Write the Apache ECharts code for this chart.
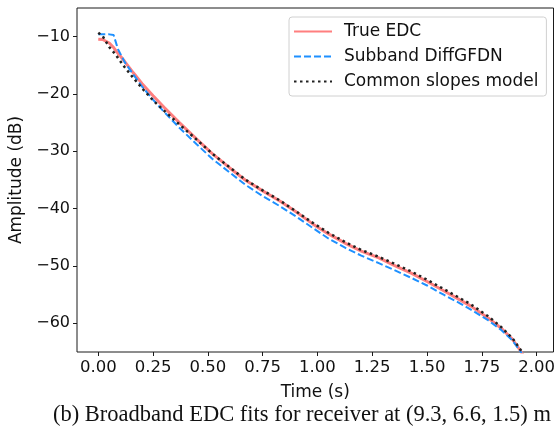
<!DOCTYPE html>
<html>
<head>
<meta charset="utf-8">
<script src="https://cdn.jsdelivr.net/npm/echarts@6/dist/echarts.min.js"></script>
<style>
  html, body { margin: 0; padding: 0; background: #fff; }
  #main { width: 558px; height: 436px; }
</style>
</head>
<body>
<div id="main"></div>
<script>
// time axis (s)
var timeS = [0, 0.02, 0.05, 0.07, 0.09, 0.12, 0.16, 0.2, 0.25, 0.3, 0.37, 0.45, 0.52, 0.6, 0.67, 0.75, 0.83, 0.9, 0.98,
  1.05, 1.13, 1.2, 1.28, 1.35, 1.43, 1.5, 1.58, 1.65, 1.7, 1.78, 1.84, 1.89, 1.93, 1.97]
// amplitudes (dB)
var trueEdc = [-10.45, -10.5, -11.1, -11.9, -12.9, -14.3, -16.3, -18.2, -20.3, -22.3, -25.0, -27.9, -30.4, -32.9, -35.0,
  -36.9, -38.7, -40.5, -42.7, -44.4, -46.1, -47.4, -48.6, -49.9, -51.3, -52.7, -54.4, -55.9, -57.0, -59.1, -60.9, -62.8, -65.0, -68.5]
var subbandGfdn = [-9.6, -9.6, -9.6, -9.7, -12.2, -14.4, -16.6, -18.7, -21.0, -23.1, -25.9, -28.8, -31.3, -33.7, -35.8,
  -37.8, -39.6, -41.3, -43.4, -45.2, -46.9, -48.2, -49.5, -50.7, -52.1, -53.4, -55.1, -56.5, -57.6, -59.5, -61.2, -63.0, -65.1, -68.6]
var commonSlopes = [-9.3, -9.9, -11.8, -12.7, -13.7, -15.3, -17.2, -19.0, -21.1, -22.9, -25.3, -28.0, -30.4, -32.8, -34.9,
  -36.8, -38.6, -40.4, -42.5, -44.2, -45.9, -47.2, -48.4, -49.6, -51.0, -52.4, -54.1, -55.6, -56.7, -58.8, -60.7, -62.6, -64.8, -68.3]
var xTicks = [0, 0.25, 0.5, 0.75, 1.0, 1.25, 1.5, 1.75, 2.0]
var yTicks = [-60, -50, -40, -30, -20, -10]

function pairs (ys) {
  return timeS.map(function (t, i) { return [t, ys[i]] })
}
function minus (v) {
  return String(v).replace('-', '\u2212')
}

var chart = echarts.init(document.getElementById('main'), null, { renderer: 'canvas' })
var font = 'DejaVu Sans'
chart.setOption({
  animation: false,
  textStyle: { fontFamily: font },
  grid: {
    left: 77, top: 8, right: 3, bottom: 84,
    show: true, borderColor: '#1a1a1a', borderWidth: 1
  },
  legend: {
    orient: 'vertical',
    left: 289,
    top: 17,
    padding: [6, 8, 6, 4],
    itemWidth: 38,
    itemHeight: 14,
    itemGap: 8,
    // hide the round marker, keep only the line sample
    itemStyle: { opacity: 0 },
    borderColor: '#d0d0d0',
    borderWidth: 1,
    borderRadius: 3,
    textStyle: { fontSize: 17, color: '#111', fontFamily: font, padding: [0, 0, 0, 7] },
    data: ['True EDC', 'Subband DiffGFDN', 'Common slopes model']
  },
  xAxis: {
    type: 'value',
    min: -0.097,
    max: 2.077,
    name: 'Time (s)',
    nameLocation: 'middle',
    nameGap: 32,
    nameTextStyle: { fontSize: 17, color: '#111', fontFamily: font },
    splitLine: { show: false },
    axisLine: { show: false, onZero: false },
    axisTick: { show: true, inside: false, length: 4, customValues: xTicks, lineStyle: { color: '#1a1a1a' } },
    axisLabel: {
      customValues: xTicks,
      fontSize: 16.5,
      fontFamily: font,
      color: '#111',
      margin: 7,
      formatter: function (v) { return v.toFixed(2) }
    }
  },
  yAxis: {
    type: 'value',
    min: -65,
    max: -5,
    name: 'Amplitude (dB)',
    nameLocation: 'middle',
    nameGap: 51,
    nameTextStyle: { fontSize: 17, color: '#111', fontFamily: font },
    splitLine: { show: false },
    axisLine: { show: false, onZero: false },
    axisTick: { show: true, inside: false, length: 4, customValues: yTicks, lineStyle: { color: '#1a1a1a' } },
    axisLabel: {
      customValues: yTicks,
      fontSize: 16,
      fontFamily: font,
      color: '#111',
      margin: 7,
      formatter: function (v) { return minus(v) }
    }
  },
  series: [
    {
      name: 'True EDC',
      type: 'line',
      symbol: 'none',
      clip: true,
      data: pairs(trueEdc),
      lineStyle: { color: '#ff7f7f', width: 3 },
      itemStyle: { color: '#ff7f7f' }
    },
    {
      name: 'Subband DiffGFDN',
      type: 'line',
      symbol: 'none',
      clip: true,
      data: pairs(subbandGfdn),
      lineStyle: { color: '#1e90ff', width: 2, type: [7, 3] },
      itemStyle: { color: '#1e90ff' }
    },
    {
      name: 'Common slopes model',
      type: 'line',
      symbol: 'none',
      clip: true,
      data: pairs(commonSlopes),
      lineStyle: { color: '#222', width: 2.5, type: [2.5, 3.5] },
      itemStyle: { color: '#222' }
    }
  ],
  graphic: [
    {
      type: 'text',
      left: 53,
      top: 404,
      style: {
        text: '(b) Broadband EDC fits for receiver at (9.3, 6.6, 1.5) m',
        font: '22.5px "Liberation Serif"',
        fill: '#111'
      }
    }
  ]
})
</script>
</body>
</html>
